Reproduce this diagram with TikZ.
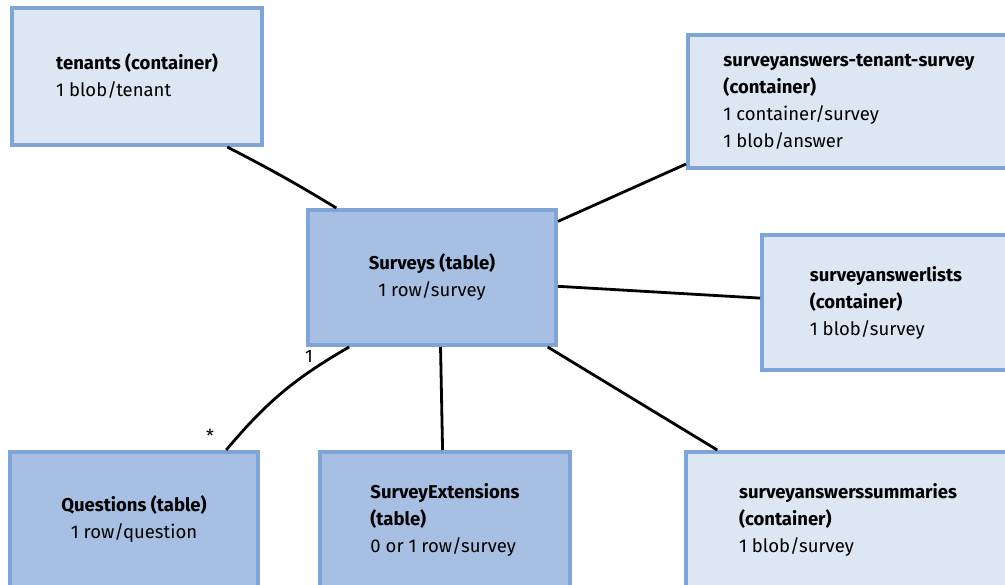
\documentclass[tikz,border=0pt]{standalone}
\usepackage{fontspec}
\setmainfont{Fira Sans}
\usetikzlibrary{positioning}
\definecolor{boxline}{HTML}{7EA5D6}
\definecolor{lightfill}{HTML}{DDE6F3}
\definecolor{darkfill}{HTML}{A7BFE2}
\tikzset{%
  lightbox/.style = {rectangle,draw=boxline,fill=lightfill,line width=4pt,
        inner sep=0pt,font=\fontsize{18.5}{27}\selectfont},
  darkbox/.style = {lightbox,fill=darkfill},
  link/.style = {draw=black,line width=2.8pt},
  mult/.style = {font=\fontsize{18}{18}\selectfont}
}
\begin{document}
\begin{tikzpicture}[x=1pt,y=-1pt]
    \clip (0,0) rectangle (1005,585);
    \fill[white] (0,0) rectangle (1005,585);
    % boxes
    \node[lightbox,minimum width=250pt,minimum height=137pt,align=left] (tenants)
        at (137,76.5) {\textbf{tenants (container)}\\1 blob/tenant};
    \node[lightbox,minimum width=322pt,minimum height=133pt,align=left] (answers)
        at (849,101.5) {\textbf{surveyanswers-tenant-survey}\\\textbf{(container)}\\
        1 container/survey\\1 blob/answer};
    \node[darkbox,minimum width=248pt,minimum height=135pt,align=center] (surveys)
        at (432,277.5) {\textbf{Surveys (table)}\\1 row/survey};
    \node[lightbox,minimum width=248pt,minimum height=135pt,align=left] (lists)
        at (886,302.5) {\textbf{surveyanswerlists}\\\textbf{(container)}\\1 blob/survey};
    \node[darkbox,minimum width=248pt,minimum height=135pt,align=center] (questions)
        at (134,519.5) {\textbf{Questions (table)}\\1 row/question};
    \node[darkbox,minimum width=250pt,minimum height=135pt,align=left] (extensions)
        at (445,519.5) {\textbf{SurveyExtensions}\\\textbf{(table)}\\0 or 1 row/survey};
    \node[lightbox,minimum width=324pt,minimum height=135pt,align=left] (summaries)
        at (848,519.5) {\textbf{surveyanswerssummaries}\\\textbf{(container)}\\1 blob/survey};

    % links
    \draw[link] (tenants.322) to[bend left=2] (surveys.144);
    \draw[link] (surveys.24) -- (answers.201);
    \draw[link] (surveys.356) -- (lists.178);
    \draw[link] (surveys.329) -- (summaries.152);
    \draw[link] (surveys.277) -- (extensions.92);
    \draw[link] (surveys.220) to[bend right=10] (questions.37);

    \node[mult] (one) at (309,356) {1};
    \node[mult] (many) at (210,436) {*};
\end{tikzpicture}
\end{document}
